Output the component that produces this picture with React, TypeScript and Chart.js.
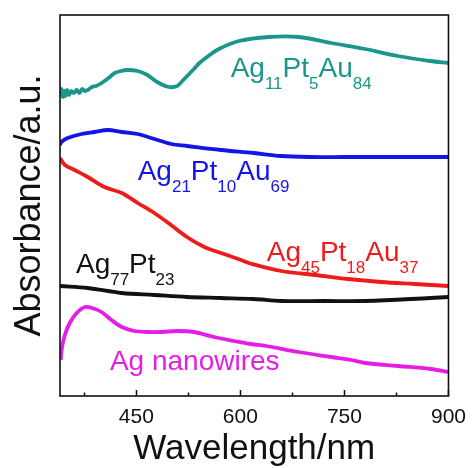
import React, { useEffect, useRef } from "react";
import { Chart, registerables } from "chart.js";

Chart.register(...registerables);

// Wavelength (nm) and absorbance (a.u., offset curves)
const tealWl = [340, 342, 344, 346, 348, 350, 353, 356, 360, 364, 368, 372, 376, 380, 386, 392, 400, 410, 419, 428, 437, 452, 466, 480, 497, 509, 515, 533, 541, 552, 569, 598, 641, 684, 731, 780, 827, 874, 900];
const tealAbs = [3.02, 3.07, 2.99, 3.05, 3.0, 3.06, 3.01, 3.05, 3.03, 3.06, 3.03, 3.07, 3.05, 3.06, 3.09, 3.1, 3.13, 3.18, 3.23, 3.25, 3.26, 3.25, 3.21, 3.14, 3.09, 3.1, 3.14, 3.27, 3.33, 3.39, 3.47, 3.55, 3.59, 3.59, 3.53, 3.47, 3.4, 3.35, 3.33];

const blueWl = [340, 342, 351, 371, 390, 409, 429, 452, 476, 500, 523, 572, 619, 658, 700, 750, 800, 850, 900];
const blueAbs = [2.51, 2.54, 2.58, 2.62, 2.64, 2.66, 2.64, 2.62, 2.57, 2.52, 2.5, 2.46, 2.43, 2.4, 2.39, 2.39, 2.39, 2.39, 2.39];

const redWl = [340, 347, 361, 380, 404, 429, 452, 476, 500, 523, 548, 572, 601, 612, 659, 708, 755, 803, 851, 900];
const redAbs = [2.38, 2.31, 2.26, 2.19, 2.09, 2.03, 1.93, 1.83, 1.71, 1.59, 1.49, 1.43, 1.36, 1.33, 1.25, 1.21, 1.17, 1.14, 1.12, 1.1];

const blackWl = [340, 380, 429, 476, 523, 572, 619, 659, 720, 780, 874, 900];
const blackAbs = [1.1, 1.08, 1.03, 1.01, 0.99, 0.98, 0.97, 0.95, 0.95, 0.95, 0.98, 0.99];

const magentaWl = [341, 343, 347, 354, 364, 376, 386, 400, 414, 429, 447, 466, 486, 509, 533, 562, 591, 615, 637, 684, 731, 760, 780, 827, 874, 900];
const magentaAbs = [0.36, 0.49, 0.61, 0.73, 0.83, 0.89, 0.88, 0.84, 0.76, 0.69, 0.65, 0.64, 0.64, 0.65, 0.64, 0.59, 0.55, 0.52, 0.5, 0.44, 0.39, 0.36, 0.33, 0.3, 0.27, 0.24];

const majorTicks = [450, 600, 750, 900];
const minorTicks = [375, 525, 675, 825];

const colors = {
  teal: "#1b968a",
  blue: "#1414e6",
  red: "#ee1b1b",
  black: "#111111",
  magenta: "#e41ee6",
};

// Annotation labels: [text, isSubscript] parts
const labelTexts: [string, boolean][][] = [
  [["Ag", false], ["11", true], ["Pt", false], ["5", true], ["Au", false], ["84", true]],
  [["Ag", false], ["21", true], ["Pt", false], ["10", true], ["Au", false], ["69", true]],
  [["Ag", false], ["45", true], ["Pt", false], ["18", true], ["Au", false], ["37", true]],
  [["Ag", false], ["77", true], ["Pt", false], ["23", true]],
  [["Ag nanowires", false]],
];
const labelWl = [586, 452, 638, 363, 412];
const labelAbs = [3.19, 2.16, 1.35, 1.23, 0.26];
const labelColors = [colors.teal, colors.blue, colors.red, colors.black, colors.magenta];

const FONT = "'Liberation Sans', Arial, sans-serif";

function toPts(xs: number[], ys: number[]) {
  return xs.map((x, i) => ({ x, y: ys[i] }));
}

const framePlugin = {
  id: "frameAndLabels",
  afterDraw(chart: any) {
    const { ctx, chartArea, scales } = chart;
    const xs = scales.x;
    const ys = scales.y;
    ctx.save();
    ctx.strokeStyle = "#111";
    ctx.lineWidth = 1.6;
    ctx.strokeRect(chartArea.left, chartArea.top, chartArea.right - chartArea.left, chartArea.bottom - chartArea.top);
    ctx.lineWidth = 1.5;
    ctx.beginPath();
    majorTicks.forEach((v) => {
      const px = Math.round(xs.getPixelForValue(v)) + 0.5;
      ctx.moveTo(px, chartArea.bottom);
      ctx.lineTo(px, chartArea.bottom - 6);
    });
    minorTicks.forEach((v) => {
      const px = Math.round(xs.getPixelForValue(v)) + 0.5;
      ctx.moveTo(px, chartArea.bottom);
      ctx.lineTo(px, chartArea.bottom - 3.5);
    });
    ctx.stroke();
    ctx.textBaseline = "alphabetic";
    ctx.textAlign = "left";
    labelTexts.forEach((parts, i) => {
      let x = xs.getPixelForValue(labelWl[i]);
      const y = ys.getPixelForValue(labelAbs[i]);
      ctx.fillStyle = labelColors[i];
      parts.forEach(([t, sub]) => {
        ctx.font = sub ? `17px ${FONT}` : `28px ${FONT}`;
        ctx.fillText(t, x, sub ? y + 12 : y);
        x += ctx.measureText(t).width;
      });
    });
    ctx.restore();
  },
};

export default function App() {
  const ref = useRef<HTMLCanvasElement | null>(null);
  useEffect(() => {
    if (!ref.current) return;
    const mk = (label: string, xs: number[], ys: number[], c: string) => ({
      label,
      data: toPts(xs, ys),
      borderColor: c,
      backgroundColor: c,
      borderWidth: 3.8,
      pointRadius: 0,
      tension: 0.35,
      fill: false,
    });
    const chart = new Chart(ref.current, {
      type: "line",
      data: {
        datasets: [
          mk("Ag11Pt5Au84", tealWl, tealAbs, colors.teal),
          mk("Ag21Pt10Au69", blueWl, blueAbs, colors.blue),
          mk("Ag45Pt18Au37", redWl, redAbs, colors.red),
          mk("Ag77Pt23", blackWl, blackAbs, colors.black),
          mk("Ag nanowires", magentaWl, magentaAbs, colors.magenta),
        ],
      },
      options: {
        animation: false,
        responsive: false,
        layout: { padding: { left: 0, right: 24, top: 15, bottom: 0 } },
        plugins: { legend: { display: false }, tooltip: { enabled: false } },
        scales: {
          x: {
            type: "linear",
            min: 340,
            max: 900,
            grid: { display: false, drawTicks: false },
            border: { display: false },
            afterBuildTicks: (s: any) => {
              s.ticks = majorTicks.map((v) => ({ value: v }));
            },
            afterFit: (s: any) => {
              s.height = 72;
            },
            ticks: {
              padding: 9,
              color: "#111",
              font: { family: FONT, size: 21 },
              maxRotation: 0,
              autoSkip: false,
            },
            title: {
              display: true,
              text: "Wavelength/nm",
              color: "#111",
              font: { family: FONT, size: 35, lineHeight: 1 },
              padding: { top: 0, bottom: 1 },
            },
          },
          y: {
            type: "linear",
            min: 0,
            max: 3.81,
            grid: { display: false, drawTicks: false },
            border: { display: false },
            ticks: { display: false },
            afterFit: (s: any) => {
              s.width = 60;
            },
            title: {
              display: true,
              text: "Absorbance/a.u.",
              color: "#111",
              font: { family: FONT, size: 36, lineHeight: 1 },
              padding: { top: 12, bottom: 0 },
            },
          },
        },
      },
      plugins: [framePlugin],
    });
    return () => chart.destroy();
  }, []);
  return (
    <div style={{ position: "fixed", left: 0, top: 0, width: 475, height: 468, background: "#fff" }}>
      <canvas ref={ref} width={475} height={468} style={{ display: "block" }} />
    </div>
  );
}
